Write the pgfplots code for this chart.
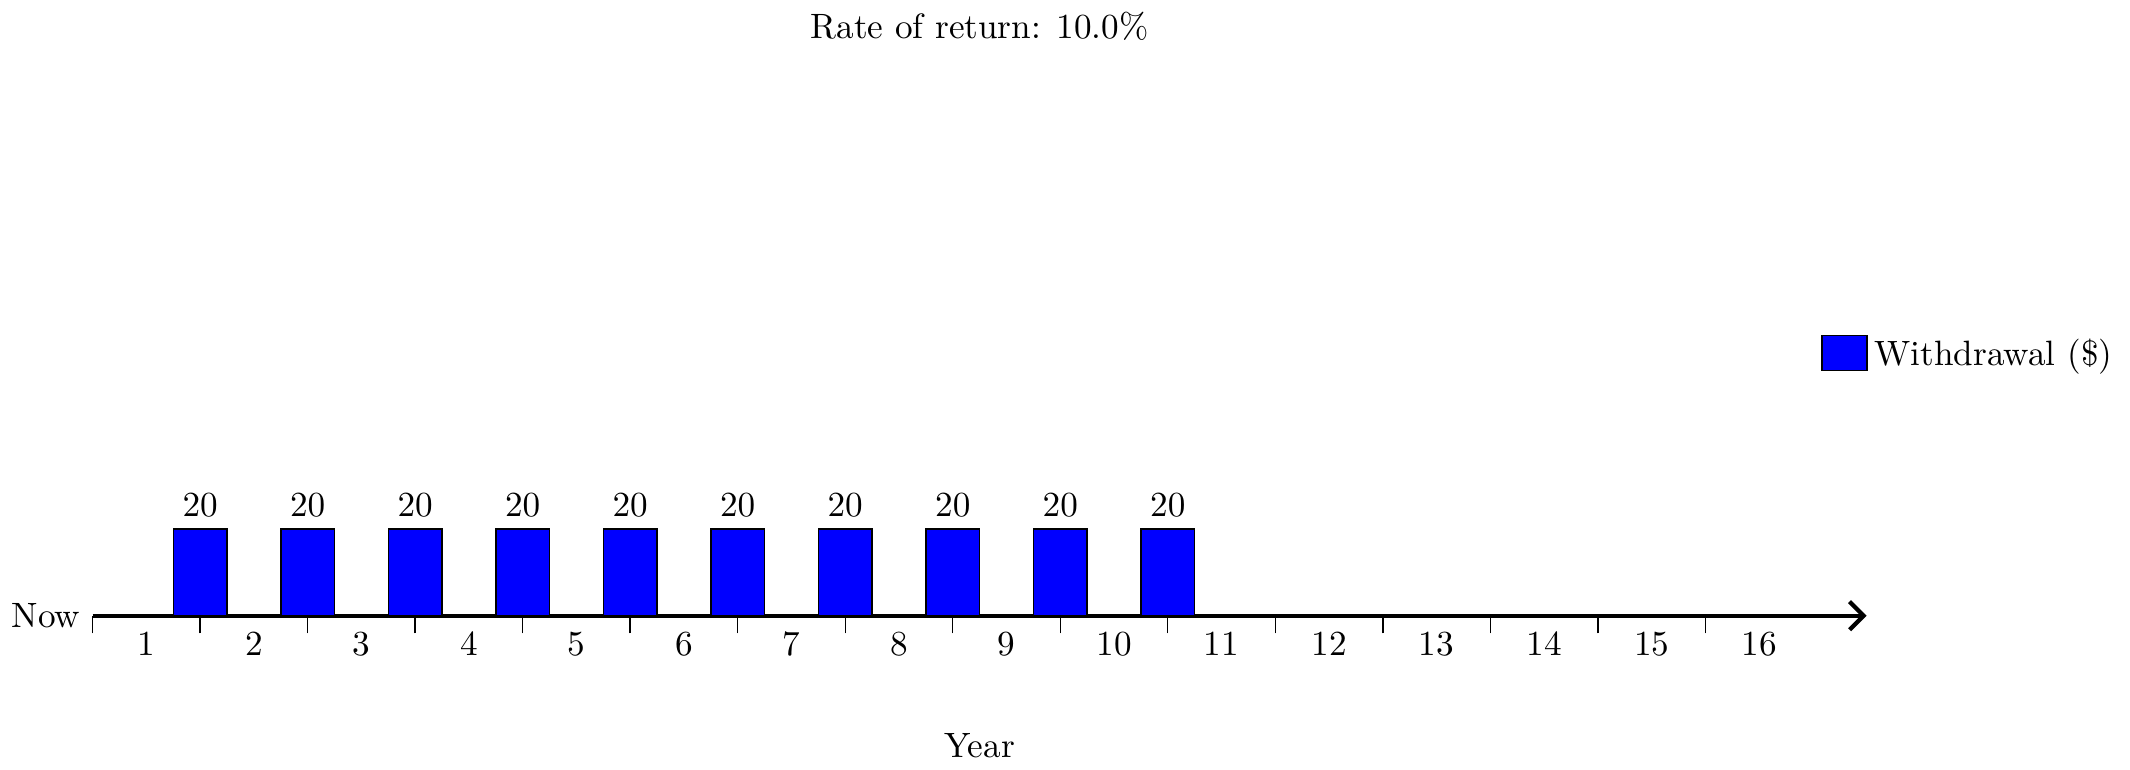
\documentclass[border=0pt]{standalone}
\usepackage{pgfplots}
\pgfplotsset{compat=1.18}
\usetikzlibrary{arrows.meta}
\begin{document}
\begin{tikzpicture}
\begin{axis}[
  scale only axis, width=504pt, height=148pt,
  xmin=0.5, xmax=17, ymin=0, ymax=120,
  axis x line=bottom, axis y line=none,
  x axis line style={very thick,-{Straight Barb[length=4pt]}},
  xtick={0.5,1.5,...,15.5}, xticklabels={},
  tick align=center, major tick length=5pt,
  tick style={black,thin},
  extra x ticks={1,...,16},
  extra x tick labels={1,2,3,4,5,6,7,8,9,10,11,12,13,14,15,16},
  extra x tick style={major tick length=0pt},
  xticklabel style={yshift=-1pt},
  xlabel={Year}, xlabel style={yshift=-10pt},
  title={Rate of return: 10.0\%}, title style={yshift=6pt},
  ybar, bar width=15.2pt,
  nodes near coords, nodes near coords style={font=\normalsize},
  legend style={at={(0.968,0.5)}, anchor=west, draw=none, fill=none},
  legend image code/.code={\draw[#1] (0cm,-0.15cm) rectangle (0.45cm,0.2cm);},
  clip=false,
]
\addplot[fill=blue, draw=black] coordinates {(1.5,20) (2.5,20) (3.5,20) (4.5,20) (5.5,20) (6.5,20) (7.5,20) (8.5,20) (9.5,20) (10.5,20)};
\addlegendentry{Withdrawal (\$)}
\node[anchor=east] at (axis cs:0.5,0) {Now};
\end{axis}
\end{tikzpicture}
\end{document}
